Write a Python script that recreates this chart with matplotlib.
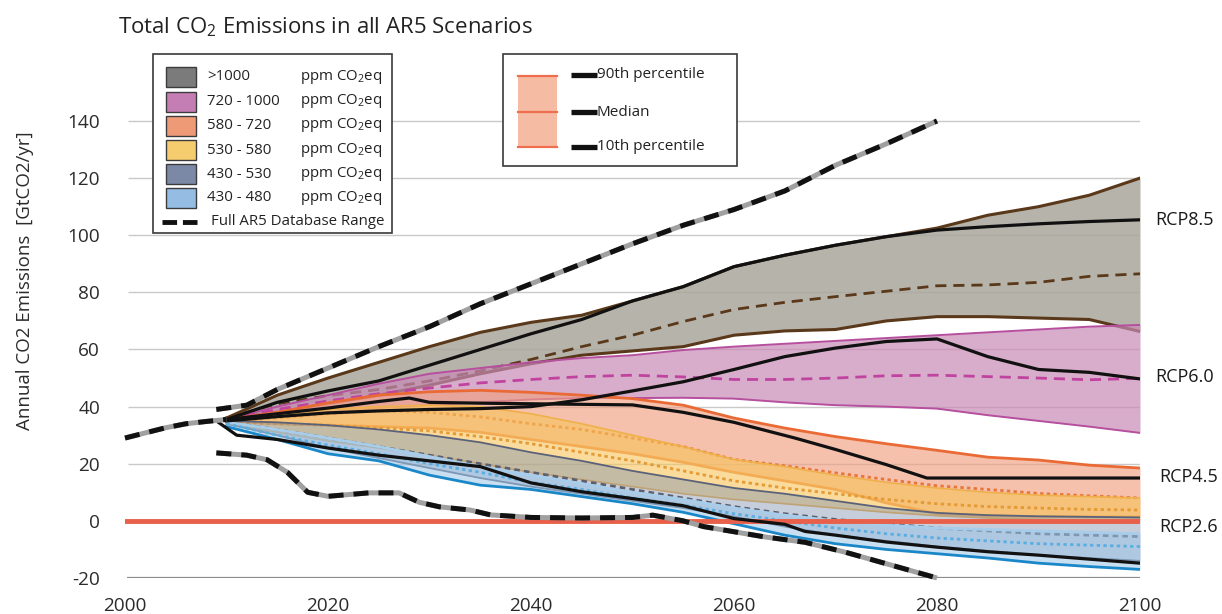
import matplotlib
matplotlib.use("Agg")
import matplotlib.pyplot as plt
from matplotlib.patches import Rectangle
from matplotlib.lines import Line2D

plt.rcParams['font.family'] = ['Open Sans', 'DejaVu Sans']
plt.rcParams['mathtext.fontset'] = 'custom'
plt.rcParams['mathtext.rm'] = 'Open Sans'
plt.rcParams['mathtext.it'] = 'Open Sans:italic'
plt.rcParams['mathtext.default'] = 'regular'
plt.rcParams['axes.unicode_minus'] = False

# ---------------- data ----------------
years = [2010, 2015, 2020, 2025, 2030, 2035, 2040, 2045, 2050, 2055,
         2060, 2065, 2070, 2075, 2080, 2085, 2090, 2095, 2100]

# >1000 ppm CO2eq
gt1000_hi = [36, 44, 50, 55.5, 61, 66, 69.5, 72, 77, 82, 89, 93, 96.5, 99.5, 102.5, 107, 110, 114, 120]
gt1000_med = [36, 41, 43.8, 46, 49, 52.5, 56.5, 61, 65, 69.8, 74, 76.5, 78.5, 80.4, 82.3, 82.6, 83.5, 85.6, 86.5]
gt1000_lo = [36, 38, 41, 44, 47.5, 51.5, 55, 58, 59.5, 61, 65, 66.5, 67, 70, 71.5, 71.5, 71, 70.5, 66.3]

# 720-1000 ppm CO2eq
p720_hi = [35.5, 40, 44, 48, 51.5, 53.5, 55.5, 57, 58, 59.8, 61, 62, 63, 64, 65, 66, 67, 68, 68.6]
p720_med = [35.5, 39, 42, 44.5, 46.5, 48.3, 49.5, 50.5, 51, 50.4, 49.5, 49.5, 50, 50.8, 51, 50.5, 50, 49.4, 49.9]
p720_lo = [35.5, 36.5, 38, 39.5, 40.5, 41.5, 42.5, 43, 43, 43.1, 42.8, 41.5, 40.5, 40, 39.3, 37, 35, 33, 30.8]

# 580-720 ppm CO2eq
p580_hi = [35.5, 38, 41.3, 44, 45.2, 45.7, 45, 44, 42.8, 40.5, 36, 32.5, 29.5, 27, 24.7, 22.3, 21.3, 19.5, 18.5]
p580_med = [35, 36, 37.5, 38.5, 38, 36.4, 34, 32, 29, 26, 21.5, 19.3, 16.8, 14.5, 12.3, 11, 9.6, 8.8, 8]
p580_lo = [35, 34, 33.5, 33, 32.5, 31, 28.5, 26, 23.5, 20.5, 17, 14, 11, 6.3, 2.5, 1.8, 1.5, 1.4, 1.4]

# 530-580 ppm CO2eq
p530_hi = [35, 37, 39, 40, 40.5, 40, 37.5, 34, 30, 26, 21.5, 19, 16, 13.5, 11.5, 10, 9, 8.5, 8]
p530_med = [34.5, 34, 33.5, 32.5, 31.5, 29.5, 27, 24, 21, 17.5, 14, 11.5, 9.5, 7.5, 6, 5, 4.5, 4, 3.8]
p530_lo = [34, 31, 28, 25.5, 23, 20, 17, 14.5, 12, 9.5, 7.5, 6, 4.5, 3, 1.8, 1, 0.5, 0.2, 0]

# 430-530 ppm CO2eq
p430_hi = [35, 34.5, 33.5, 32, 30, 27.5, 24, 21, 17.5, 14.5, 11.5, 9.5, 7, 4.5, 2.8, 2, 1.6, 1.4, 1.2]
p430_med = [34.5, 32, 29, 26, 23, 20, 17, 14, 11, 8, 5, 2.5, 0.5, -1, -2.5, -3.5, -4.5, -5, -5.5]
p430_lo = [34, 30, 25.5, 22, 18.5, 15, 12, 9.5, 7, 4.5, 1.5, -2, -5, -7, -9, -10.5, -12, -13, -14]

# 430-480 ppm CO2eq
p480_hi = [34.5, 32, 29, 26, 22.5, 19, 16, 13, 10, 7.5, 4.5, 2, 0, -1.5, -2.5, -3, -3.5, -4, -4.5]
p480_med = [34, 30, 26.5, 23.5, 20, 17, 13.5, 11, 8, 5.5, 2.5, 0, -2.5, -4.5, -6, -7, -8, -8.5, -9]
p480_lo = [33, 28.5, 23.5, 21, 16, 12.5, 11, 8.5, 6, 3, -1, -5, -8, -10, -11.5, -13, -14.8, -16, -17]

# RCP pathways
rcp85_years = years
rcp85 = [35.5, 41.5, 45.5, 49, 54.5, 60, 65.5, 70.5, 77, 82, 89, 93, 96.5, 99.5, 101.8, 103, 104, 104.8, 105.4]
rcp60_years = years
rcp60 = [35, 36.5, 37.8, 38.5, 39, 39.3, 40, 42.4, 45.5, 48.7, 53, 57.5, 60.5, 62.8, 63.7, 57.5, 53, 52, 49.7]
rcp45_years = [2010, 2015, 2020, 2025, 2028, 2030, 2035, 2040, 2045, 2050, 2055,
               2060, 2066, 2070, 2075, 2079, 2085, 2090, 2095, 2100]
rcp45 = [35.5, 37.5, 39.5, 41.8, 43, 41.5, 41.2, 41, 40.8, 40.6, 38,
         34.5, 29, 25, 19.7, 15, 15, 15, 15, 15]
rcp26_years = [2009, 2011, 2015, 2020, 2025, 2030, 2035, 2040, 2045, 2050, 2055,
               2060, 2065, 2067, 2070, 2075, 2080, 2085, 2090, 2095, 2100]
rcp26 = [35, 30, 28.5, 25.5, 23, 21, 19, 13.3, 10.2, 7.8, 5.3,
         0.8, -1.2, -3.7, -5, -7.4, -9.2, -10.8, -12, -13.4, -14.8]

# historical emissions
hist_years = [2000, 2002, 2004, 2006, 2008, 2010]
hist = [29, 30.8, 32.6, 34, 34.8, 35.5]

# full AR5 database range
db_hi_years = [2009, 2012, 2015, 2020, 2025, 2030, 2035, 2040, 2045, 2050,
               2055, 2060, 2065, 2070, 2075, 2080]
db_hi = [39, 40.5, 46, 53.5, 61, 68, 76, 83, 90, 97, 103.5, 109, 115.5, 124.5, 132, 140]
db_lo_years = [2009, 2012, 2014, 2016, 2018, 2020, 2024, 2027, 2029, 2031, 2034, 2036,
               2040, 2045, 2050, 2052, 2055, 2057, 2060, 2063, 2067, 2071, 2076, 2080]
db_lo = [23.8, 23, 21.4, 17, 10, 8.6, 9.8, 9.8, 6.5, 4.9, 3.8, 2.1,
         1.2, 1, 1.2, 2, 0, -2, -3.8, -5.6, -7.5, -11, -16, -20]

categories = ['>1000', '720 - 1000', '580 - 720', '530 - 580', '430 - 530', '430 - 480']
rcp_labels = ['RCP8.5', 'RCP6.0', 'RCP4.5', 'RCP2.6']
x_ticks = [2000, 2020, 2040, 2060, 2080, 2100]
y_ticks = [-20, 0, 20, 40, 60, 80, 100, 120, 140]

# ---------------- figure ----------------
W, H = 1222, 614
fig = plt.figure(figsize=(W / 100, H / 100), dpi=100)


def fx(px):
    return px / W


def fy(py):
    return 1 - py / H


ax = fig.add_axes([fx(125), fy(578), fx(1140) - fx(125), fy(106.7) - fy(578)])
ax.set_xlim(2000, 2100)
ax.set_ylim(-20, 145)
for s in ax.spines.values():
    s.set_visible(False)
ax.set_xticks(x_ticks)
ax.set_yticks(y_ticks)
ax.tick_params(axis='x', length=0, pad=14, labelsize=13.7, labelcolor='#2b2b2b')
ax.tick_params(axis='y', length=0, pad=18, labelsize=13.7, labelcolor='#2b2b2b')

# horizontal grid
for v in y_ticks:
    if v == -20:
        ax.hlines(v, 2000.2, 2100, color='#8c8c8c', lw=1.6, zorder=0)
    else:
        ax.hlines(v, 2000.3, 2100, color='#c9c9c9', lw=1.0, zorder=0)

bands = [
    # lo, med, hi, fill, alpha, lower/upper edge colours, edge width, median colour, median style
    (gt1000_lo, gt1000_med, gt1000_hi, '#a9a69c', 0.85, ('#5a381a', '#5a381a'), 2.2, '#5a381a', (0, (4, 2.5))),
    (p720_lo, p720_med, p720_hi, '#c88ab5', 0.7, ('#b64f9e', '#b64f9e'), 1.4, '#c0449f', (0, (4, 2.5))),
    (p580_lo, p580_med, p580_hi, '#f0a080', 0.65, ('#ef8a50', '#ea6a35'), 2.0, '#e8763a', (0, (1.2, 1.2))),
    (p530_lo, p530_med, p530_hi, '#f7c458', 0.6, ('#efb04a', '#efb04a'), 1.2, '#e49a35', (0, (1.2, 1.2))),
    (p430_lo, p430_med, p430_hi, '#8494b0', 0.45, ('#59627a', '#59627a'), 1.3, '#5a6070', (0, (2, 1.5))),
    (p480_lo, p480_med, p480_hi, '#9cc4e6', 0.55, ('#1a88c8', '#a8cdea'), 2.0, '#5aaee0', (0, (1.2, 1.2))),
]

z = 2
for lo, med, hi, fill, alpha, (elo, ehi), elw, medc, meds in bands:
    ax.fill_between(years, lo, hi, color=fill, alpha=alpha, lw=0, zorder=z)
    ax.plot(years, hi, color=ehi, lw=elw, zorder=z + 0.2)
    ax.plot(years, lo, color=elo, lw=elw, zorder=z + 0.2)
    ax.plot(years, med, color=medc, lw=2.0, linestyle=meds, zorder=z + 0.3)
    z += 1

# zero line
ax.axhline(0, color='#e8604a', lw=3.5, zorder=z)

# RCP pathways
for yrs, vals in [(rcp85_years, rcp85), (rcp60_years, rcp60),
                  (rcp45_years, rcp45), (rcp26_years, rcp26)]:
    ax.plot(yrs, vals, color='#111111', lw=2.3, zorder=z + 1)


def db_line(xs, ys):
    ax.plot(xs, ys, color='#a0a0a0', lw=3.6, zorder=z + 2, clip_on=False,
            solid_capstyle='butt')
    ax.plot(xs, ys, color='#111111', lw=3.6, zorder=z + 3, clip_on=False,
            linestyle=(0, (3, 2)), dash_capstyle='butt')


db_line(hist_years, hist)
db_line(db_hi_years, db_hi)
db_line(db_lo_years, db_lo)

# RCP labels at the right
label_px = [(1155, 220), (1155, 377), (1159, 477), (1159, 527)]
for (px, py), txt in zip(label_px, rcp_labels):
    fig.text(fx(px), fy(py), txt, ha='left', va='center', fontsize=13, color='#1a1a1a')

# title and axis label
fig.text(fx(118), fy(27), 'Total CO$_2$ Emissions in all AR5 Scenarios',
         ha='left', va='center', fontsize=16, color='#222222')
fig.text(fx(25), fy(281), 'Annual CO2 Emissions  [GtCO2/yr]', rotation=90,
         ha='center', va='center', fontsize=13.5, color='#2b2b2b')

# ---------------- category legend ----------------
fig.add_artist(Rectangle((fx(153), fy(233)), fx(392) - fx(153), fy(54) - fy(233),
                         transform=fig.transFigure, facecolor='white',
                         edgecolor='#3a3a3a', lw=1.2, zorder=5))
swatch_colors = ['#7b7b7b', '#c47eb4', '#ef9a77', '#f6cd6e', '#7c89a6', '#95bde3']
row_y = [77, 101.5, 125.5, 150, 174, 198]
for col, ry, cat in zip(swatch_colors, row_y, categories):
    fig.add_artist(Rectangle((fx(166), fy(ry + 10)), fx(196) - fx(166), fy(ry - 10) - fy(ry + 10),
                             transform=fig.transFigure, facecolor=col,
                             edgecolor='#3c3c3c', lw=1.0, zorder=6))
    fig.text(fx(207), fy(ry), cat, ha='left', va='center', fontsize=10.8, color='#222222', zorder=7)
    fig.text(fx(300), fy(ry), 'ppm CO$_2$eq', ha='left', va='center', fontsize=10.8,
             color='#222222', zorder=7)
fig.add_artist(Line2D([fx(162), fx(200)], [fy(222), fy(222)], transform=fig.transFigure,
                      color='#111111', lw=3.5, linestyle=(0, (3, 1.2)), zorder=7))
fig.text(fx(211), fy(222), 'Full AR5 Database Range', ha='left', va='center',
         fontsize=10.8, color='#222222', zorder=7)

# ---------------- percentile legend ----------------
fig.add_artist(Rectangle((fx(503), fy(166)), fx(737) - fx(503), fy(54) - fy(166),
                         transform=fig.transFigure, facecolor='white',
                         edgecolor='#3a3a3a', lw=1.2, zorder=5))
fig.add_artist(Rectangle((fx(518), fy(147)), fx(557) - fx(518), fy(76) - fy(147),
                         transform=fig.transFigure, facecolor='#f5bca3',
                         edgecolor='none', zorder=6))
for ly in (76, 112, 147):
    fig.add_artist(Line2D([fx(518), fx(557)], [fy(ly), fy(ly)], transform=fig.transFigure,
                          color='#ee6e4e', lw=1.6, zorder=7))
for ly, txt in zip((75, 112, 147), ('90th percentile', 'Median', '10th percentile')):
    fig.add_artist(Line2D([fx(571), fx(597)], [fy(ly), fy(ly)], transform=fig.transFigure,
                          color='#111111', lw=3.8, solid_capstyle='butt', zorder=7))
    fig.text(fx(597), fy(ly), txt, ha='left', va='center', fontsize=11,
             color='#222222', zorder=7)

fig.savefig('out.png', dpi=100)
